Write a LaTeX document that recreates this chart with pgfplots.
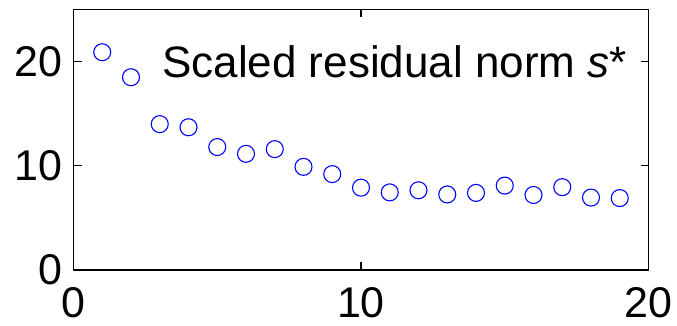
\documentclass[border=0pt]{standalone}
\usepackage{fontspec}
\setmainfont{Liberation Sans}
\usepackage{pgfplots}
\pgfplotsset{compat=1.18}
\begin{document}
\fontsize{44}{50}\selectfont
\begin{tikzpicture}
\useasboundingbox (-73.5pt,-56pt) rectangle (603.5pt,270pt);
\begin{axis}[
  scale only axis,
  width=575pt, height=260.5pt,
  xmin=0, xmax=20, ymin=0, ymax=25,
  xtick={0,10,20}, ytick={0,10,20},
  tick pos=both, tick align=inside,
  major tick length=8pt,
  axis line style={line width=1.3pt},
  every tick/.style={line width=1.3pt, black},
  /pgf/number format/assume math mode=true,
  tick label style={font=\fontsize{43}{50}\selectfont, inner sep=0pt},
  yticklabel style={xshift=-10.5pt},
  xticklabel style={yshift=-17pt},
  clip=false,
]
\addplot[only marks, mark=o, mark size=8.5pt, color=blue, mark options={line width=1.1pt}] table {
x y
1 20.9
2 18.5
3 14.0
4 13.7
5 11.8
6 11.15
7 11.6
8 9.9
9 9.2
10 7.9
11 7.45
12 7.65
13 7.25
14 7.4
15 8.1
16 7.2
17 7.95
18 6.95
19 6.9
};
\node[anchor=base west, inner sep=0pt] at (axis cs:3.08,18.5) {Scaled residual norm \textit{s}*};
\end{axis}
\end{tikzpicture}
\end{document}
